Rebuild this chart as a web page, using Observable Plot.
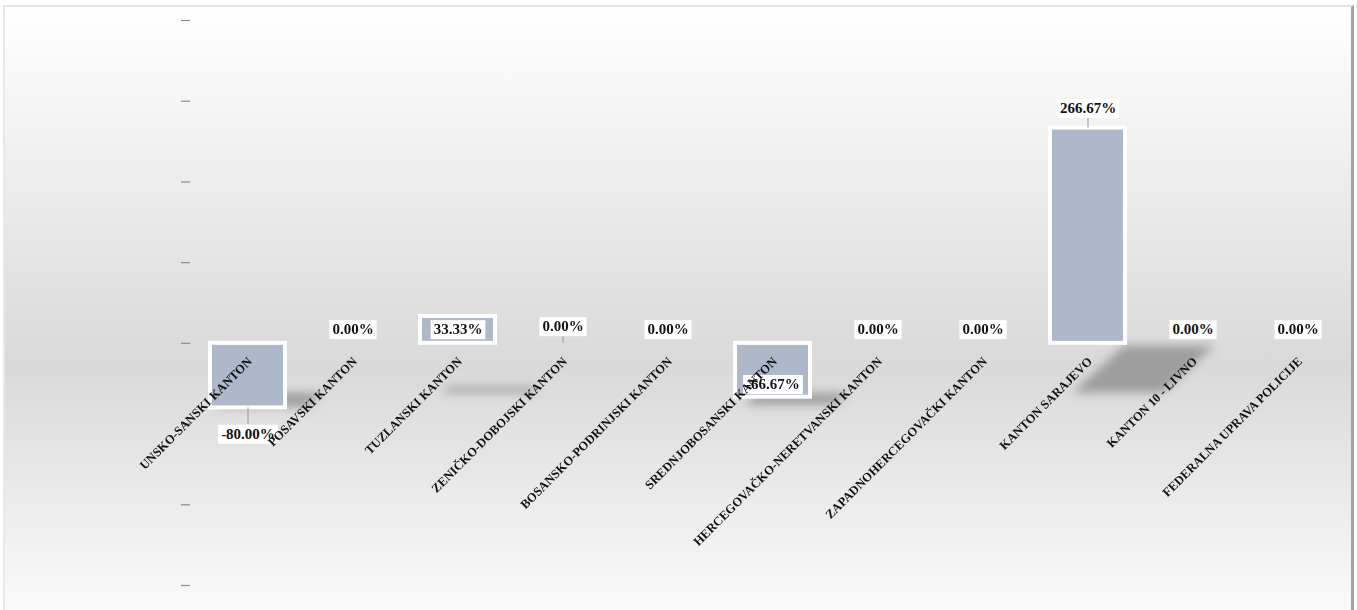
<!DOCTYPE html>
<html>
<head>
<meta charset="utf-8">
<script src="https://cdn.jsdelivr.net/npm/d3@7"></script>
<script src="https://cdn.jsdelivr.net/npm/@observablehq/plot@0.6"></script>
<style>
  html, body { margin: 0; padding: 0; background: #ffffff; overflow: hidden; }
  #wrap { position: relative; width: 1357px; height: 610px; overflow: hidden; }
  #frame {
    position: absolute; left: 3px; top: 5px; width: 1346px; height: 640px;
    background: linear-gradient(to bottom, #ffffff 0%, #d9d9d9 56%, #ffffff 100%);
    border-top: 2px solid #e3e3e3; border-left: 2px solid #e8e8e8; border-right: 3px solid #a2a2a2;
  }
  #chart { position: absolute; left: 0; top: 0; }
</style>
</head>
<body>
<div id="wrap"><div id="frame"></div><div id="chart"></div></div>
<script>
// ---- data ----
const cantons = [
  "UNSKO-SANSKI KANTON",
  "POSAVSKI KANTON",
  "TUZLANSKI KANTON",
  "ZENIČKO-DOBOJSKI KANTON",
  "BOSANSKO-PODRINJSKI KANTON",
  "SREDNJOBOSANSKI KANTON",
  "HERCEGOVAČKO-NERETVANSKI KANTON",
  "ZAPADNOHERCEGOVAČKI KANTON",
  "KANTON SARAJEVO",
  "KANTON 10 - LIVNO",
  "FEDERALNA UPRAVA POLICIJE"
];
const changes = [-80.00, 0.00, 33.33, 0.00, 0.00, -66.67, 0.00, 0.00, 266.67, 0.00, 0.00];
const yTicks = [400, 300, 200, 100, 0, -100, -200, -300];

const data = cantons.map((c, i) => ({canton: c, value: changes[i]}));
const bars = data.filter(d => d.value !== 0);

// ---- layout ----
const W = 1357, H = 610;
const mTop = 20, mBottom = 25, mLeft = 192, mRight = 4;
const yDomain = [-300, 400];
const pxPerUnit = (H - mTop - mBottom) / (yDomain[1] - yDomain[0]);
const px = p => p / pxPerUnit;   // pixel offset -> value units (positive = up)

// label offsets in px (negative = upwards on screen), manual placement like the original
const labelShift = {
  "UNSKO-SANSKI KANTON": {from: "value", off: 26, leader: true},
  "TUZLANSKI KANTON": {from: "zero", off: -14},
  "ZENIČKO-DOBOJSKI KANTON": {from: "value", off: -17, leader: true},
  "SREDNJOBOSANSKI KANTON": {from: "value", off: -13},
  "KANTON SARAJEVO": {from: "value", off: -20, leader: true}
};
function labelInfo(d) {
  return labelShift[d.canton] || {from: "value", off: d.value < 0 ? 14 : -14};
}
function labelY(d) {
  const s = labelInfo(d);
  const base = s.from === "zero" ? 0 : d.value;
  return base - px(s.off);
}
const leaders = data.filter(d => labelInfo(d).leader);

const fmt = v => v.toFixed(2) + "%";
const serif = "'Liberation Serif', 'DejaVu Serif', serif";

// perspective floor shadow of the bars (per-bar affine transform)
function shadowRender(index, scales, values, dims, context, next) {
  const g = next(index, scales, values, dims, context);
  const Z = scales.y(0);
  const Y0 = Z + 50, s = 0.22, ks = 0.24, t = 30, sx = 1.2;
  g.querySelectorAll("rect").forEach(r => {
    const x = +r.getAttribute("x"), w = +r.getAttribute("width");
    const cx = x + w / 2;
    const a = sx, b = 0, c = -ks, d = s, e = cx * (1 - sx) + t + ks * Z, f = Y0 - s * Z;
    r.setAttribute("transform", `matrix(${a},${b},${c},${d},${e},${f})`);
  });
  g.setAttribute("filter", "url(#shadowBlur)");
  return g;
}

const plot = Plot.plot({
  width: W, height: H,
  marginTop: mTop, marginBottom: mBottom, marginLeft: mLeft, marginRight: mRight,
  style: {background: "transparent", overflow: "visible"},
  x: {domain: cantons, paddingInner: 0.29, paddingOuter: 0.145, axis: null},
  y: {domain: yDomain},
  marks: [
    Plot.axisY({ticks: yTicks, tickFormat: () => "", tickSize: 9, dx: -2, stroke: "#8c8c8c", strokeWidth: 1.2, label: null}),
    Plot.barY(bars, {x: "canton", y: "value", fill: "#8f8f8f", fillOpacity: 0.8, render: shadowRender}),
    Plot.barY(bars, {x: "canton", y: "value", fill: "#adb8cb", stroke: "#ffffff", strokeWidth: 4}),
    Plot.ruleX(leaders, {
      x: "canton",
      y1: "value",
      y2: d => { const s = labelInfo(d); return d.value - px(s.off - Math.sign(s.off) * 9); },
      stroke: "#9a9a9a", strokeWidth: 1
    }),
    Plot.text(data, {
      x: "canton", y: labelY, text: d => fmt(d.value),
      fontSize: 15, fontWeight: "bold", fontFamily: serif, fill: "#111111",
      ariaDescription: "value-label"
    }),
    Plot.text(data, {
      x: "canton", y: () => -px(16), text: "canton",
      rotate: -45, textAnchor: "end", lineAnchor: "middle", dx: 2,
      fontSize: 12.5, fontWeight: "bold", fontFamily: serif, fill: "#111111",
      ariaDescription: "category-label"
    })
  ]
});

document.getElementById("chart").appendChild(plot);

// svg defs: blur filter for the floor shadows
const ns = "http://www.w3.org/2000/svg";
const defs = document.createElementNS(ns, "defs");
defs.innerHTML = '<filter id="shadowBlur" x="-50%" y="-50%" width="200%" height="200%"><feGaussianBlur stdDeviation="5"/></filter>';
plot.insertBefore(defs, plot.firstChild);

// white boxes behind value labels
plot.querySelectorAll('g[aria-description="value-label"] text').forEach(t => {
  const bb = t.getBBox();
  const r = document.createElementNS(ns, "rect");
  r.setAttribute("x", bb.x - 3);
  r.setAttribute("y", bb.y - 1);
  r.setAttribute("width", bb.width + 6);
  r.setAttribute("height", bb.height + 3);
  r.setAttribute("fill", "#ffffff");
  const tr = t.getAttribute("transform");
  if (tr) r.setAttribute("transform", tr);
  t.parentNode.insertBefore(r, t);
});
</script>
</body>
</html>
